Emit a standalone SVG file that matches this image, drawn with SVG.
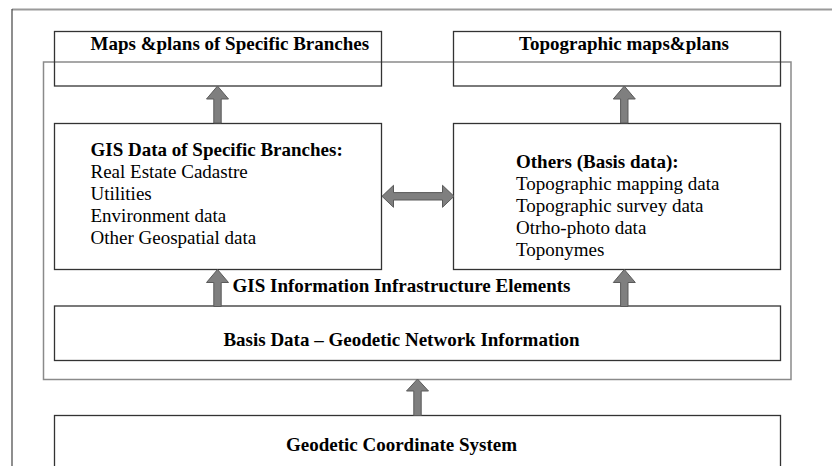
<svg xmlns="http://www.w3.org/2000/svg" xmlns:xlink="http://www.w3.org/1999/xlink" width="832" height="466" viewBox="0 0 832 466">
<style>
.box{fill:#fff;stroke:#333;stroke-width:1.3}
.frame{fill:none;stroke:#8a8a8a;stroke-width:1.5}
.arr{fill:#7f7f7f;stroke:#5a5a5a;stroke-width:1}
.t{font-family:"Liberation Serif","Times New Roman",serif;font-size:19px;fill:#000}
.b{font-weight:bold}
</style>
<defs>
<path id="up" d="M0,0 L11,13 L3.7,13 L3.7,37 L-3.7,37 L-3.7,13 L-11,13 Z"/>
</defs>
<rect x="0" y="0" width="832" height="466" fill="#fff"/>
<g id="outer-frame">
<line x1="12" y1="9.5" x2="832" y2="9.5" stroke="#9a9a9a" stroke-width="2"/>
<line x1="12" y1="9" x2="12" y2="466" stroke="#444" stroke-width="1.2"/>
</g>
<g id="infra-frame">
<rect class="frame" x="43.5" y="62" width="747.5" height="317.5"/>
</g>
<g id="maps-specific">
<rect class="box" x="54.5" y="31.5" width="327" height="54.5" fill="none" style="fill:none"/>
<text class="t b" x="90.5" y="49.5">Maps &amp;plans of Specific Branches</text>
</g>
<g id="topo-maps">
<rect class="box" x="453.5" y="31.5" width="327" height="54.5" style="fill:none"/>
<text class="t b" x="519" y="49.5">Topographic maps&amp;plans</text>
</g>
<g id="gis-specific">
<rect class="box" x="54.5" y="123.5" width="327" height="146"/>
<text class="t b" x="90.5" y="156">GIS Data of Specific Branches:</text>
<text class="t" x="90.5" y="178">Real Estate Cadastre</text>
<text class="t" x="90.5" y="200">Utilities</text>
<text class="t" x="90.5" y="222">Environment data</text>
<text class="t" x="90.5" y="244">Other Geospatial data</text>
</g>
<g id="others-basis">
<rect class="box" x="453.5" y="123.5" width="327" height="146"/>
<text class="t b" x="516" y="167.5">Others (Basis data):</text>
<text class="t" x="516" y="189.5">Topographic mapping data</text>
<text class="t" x="516" y="211.5">Topographic survey data</text>
<text class="t" x="516" y="233.5">Otrho-photo data</text>
<text class="t" x="516" y="255.5">Toponymes</text>
</g>
<g id="infra-label">
<text class="t b" x="232.5" y="291.5">GIS Information Infrastructure Elements</text>
</g>
<g id="basis-network">
<rect class="box" x="54.5" y="306" width="726" height="54.5"/>
<text class="t b" x="401.5" y="345.5" text-anchor="middle">Basis Data – Geodetic Network Information</text>
</g>
<g id="coordinate-system">
<rect class="box" x="54.5" y="415.5" width="726" height="60"/>
<text class="t b" x="401.5" y="450.5" text-anchor="middle">Geodetic Coordinate System</text>
</g>
<g id="connectors">
<use xlink:href="#up" class="arr" x="217.5" y="86"/>
<use xlink:href="#up" class="arr" x="624.3" y="86"/>
<use xlink:href="#up" class="arr" x="217.5" y="269.5"/>
<use xlink:href="#up" class="arr" x="624.3" y="269.5"/>
<path class="arr" d="M417.5,379 L428.5,391 L421.2,391 L421.2,415.5 L413.8,415.5 L413.8,391 L406.5,391 Z"/>
<path class="arr" d="M382,196.3 L393.5,185.3 L393.5,192.6 L442.5,192.6 L442.5,185.3 L454,196.3 L442.5,207.3 L442.5,200 L393.5,200 L393.5,207.3 Z"/>
</g>
</svg>
